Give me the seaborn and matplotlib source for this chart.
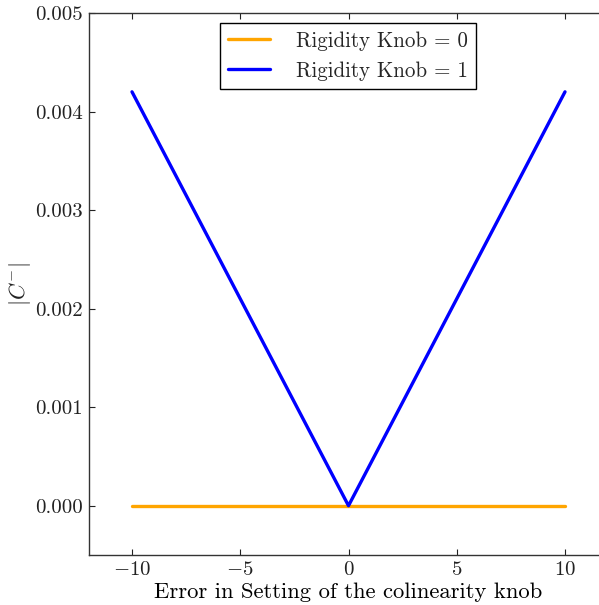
import numpy as np
import pandas as pd
import matplotlib
matplotlib.use('Agg')
import matplotlib.pyplot as plt
import seaborn as sns

# data
knob_error = [-10, 0, 10]
c_minus_rigid0 = [0.0, 0.0, 0.0]
c_minus_rigid1 = [0.0042, 0.0, 0.0042]
series_names = ['Rigidity Knob = 0', 'Rigidity Knob = 1']
series_colors = ['orange', 'blue']

df = pd.DataFrame({
    'error': knob_error * 2,
    'cminus': c_minus_rigid0 + c_minus_rigid1,
    'series': [series_names[0]] * 3 + [series_names[1]] * 3,
})

sns.set_style('ticks')
plt.rcParams['font.family'] = ['cmr10', 'DejaVu Serif']
plt.rcParams['mathtext.fontset'] = 'cm'
plt.rcParams['axes.formatter.use_mathtext'] = True
plt.rcParams['axes.unicode_minus'] = True

fig = plt.figure(figsize=(5.99, 6.05), dpi=100)
ax = fig.add_axes([88.7 / 599, 50 / 605, 519.6 / 599, 542 / 605])

sns.lineplot(data=df, x='error', y='cminus', hue='series',
             palette=series_colors, linewidth=2.4, ax=ax, sort=False)

ax.set_xlim(-12, 12)
ax.set_ylim(-0.0005, 0.005)
ax.set_xticks([-10, -5, 0, 5, 10])
ax.set_yticks([0.000, 0.001, 0.002, 0.003, 0.004, 0.005])
ax.set_yticklabels(['0.000', '0.001', '0.002', '0.003', '0.004', '0.005'])
ax.tick_params(direction='in', top=True, right=True, length=4,
               labelsize=15, colors='#222222', pad=4)
for s in ax.spines.values():
    s.set_color('#333333')
    s.set_linewidth(1)

ax.set_xlabel('Error in Setting of the colinearity knob', fontsize=16.3,
              color='black')
ax.xaxis.set_label_coords(0.499, -0.05)
ax.set_ylabel(r'$|C^{-}|$', fontsize=16, labelpad=2, color='#222222')

leg = ax.legend(loc='upper center', bbox_to_anchor=(0.499, 0.982),
                borderaxespad=0, fontsize=15.1, frameon=True, fancybox=False,
                edgecolor='black', framealpha=1, handlelength=2,
                handletextpad=1.2)
leg.get_frame().set_linewidth(1)

fig.savefig('out.png', dpi=100)
